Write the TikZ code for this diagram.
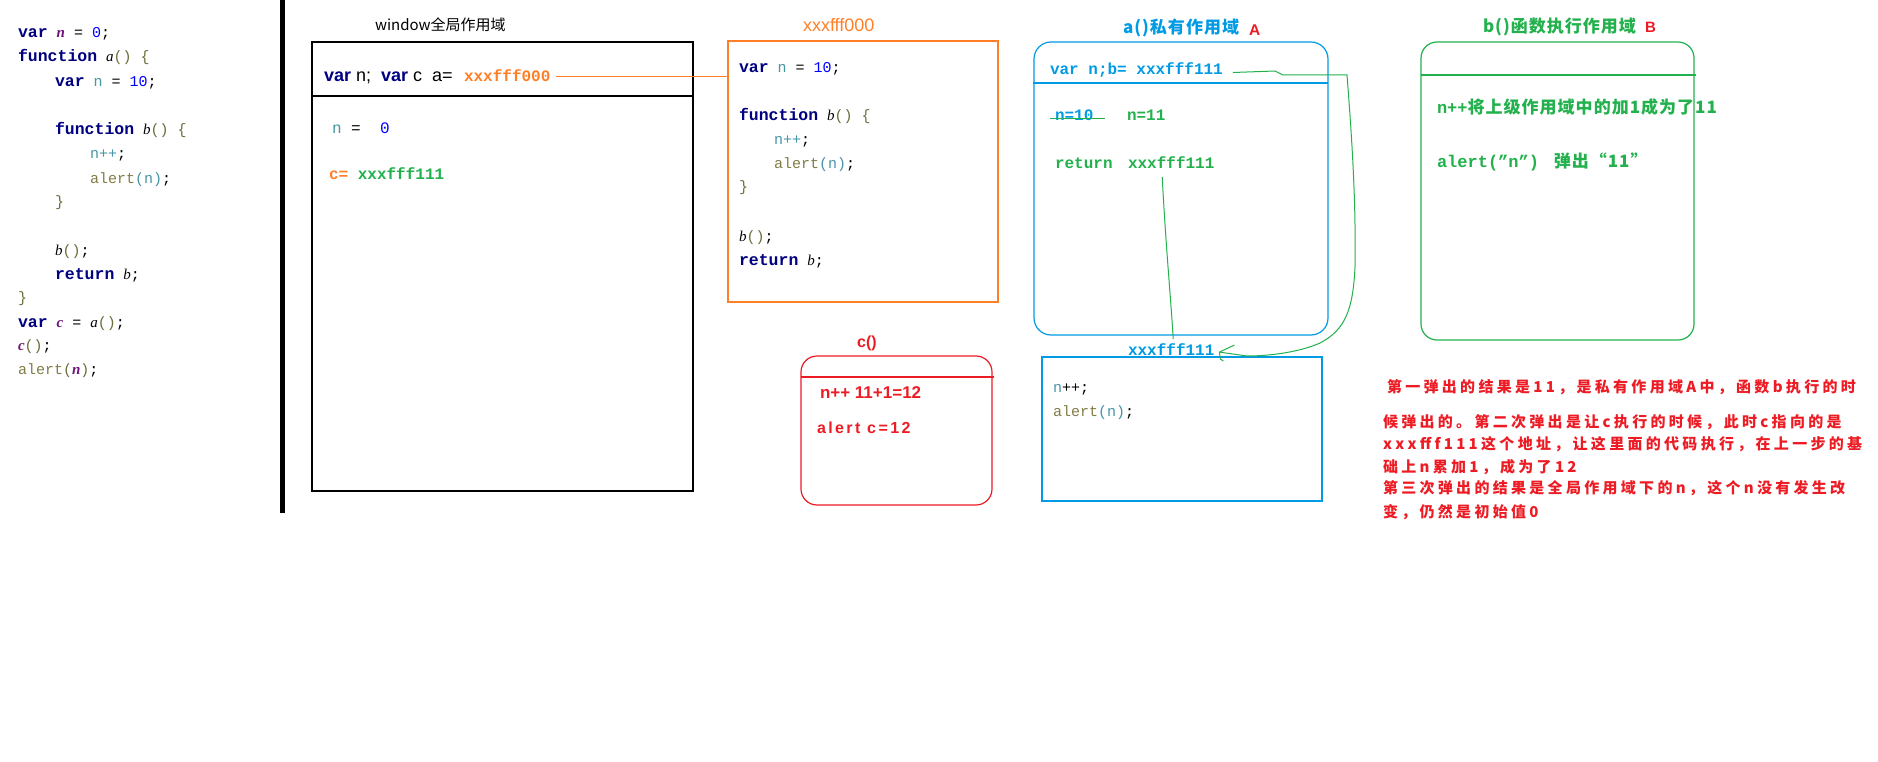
\documentclass[tikz,border=0pt]{standalone}
\usepackage{fontspec}
\setmainfont{Liberation Serif}
\newfontfamily\mono{Liberation Mono}
\newfontfamily\sansf{Liberation Sans}
\newfontfamily\sansls{Liberation Sans}[LetterSpace=15]
\newfontfamily\cjk{Noto Sans CJK SC}
\newfontfamily\cjkg{Noto Sans CJK SC}[LetterSpace=6]
\newfontfamily\cjkr{Noto Sans CJK SC}[LetterSpace=22]
\definecolor{kw}{RGB}{0,0,128}
\definecolor{numc}{RGB}{0,0,255}
\definecolor{varn}{RGB}{70,150,165}
\definecolor{alertc}{RGB}{130,125,70}
\definecolor{purp}{RGB}{110,20,120}
\definecolor{brc}{RGB}{110,110,60}
\definecolor{cblue}{RGB}{0,155,228}
\definecolor{cgreen}{RGB}{34,177,76}
\definecolor{cred}{RGB}{237,28,36}
\definecolor{corange}{RGB}{255,127,39}
\newcommand{\kwd}[1]{{\fontsize{16.5}{18}\selectfont\bfseries\color{kw}#1}}
\newcommand{\pv}[1]{{\rmfamily\bfseries\itshape\color{purp}#1}}
\newcommand{\nm}[1]{{\color{numc}#1}}
\newcommand{\vn}[1]{{\color{varn}#1}}
\newcommand{\al}{{\color{alertc}alert}}
\newcommand{\idf}[1]{{\rmfamily\itshape #1}}
\newcommand{\br}[1]{{\color{brc}#1}}
\begin{document}
\begin{tikzpicture}[x=1pt,y=-1pt]
\tikzset{
  t/.style={inner sep=0pt, outer sep=0pt, anchor=base west},
  codetxt/.style={t, font=\mono\fontsize{15}{18}\selectfont},
  boldmono/.style={t, font=\mono\bfseries\fontsize{16}{19}\selectfont},
  greentxt/.style={t, font=\cjkg\bfseries\fontsize{17}{20}\selectfont, text=cgreen},
  redpar/.style={t, font=\cjkr\bfseries\fontsize{15}{18}\selectfont, text=cred},
  frame/.style={draw, inner sep=0pt, outer sep=0pt, anchor=north west},
  link/.style={cgreen, line width=1pt}
}
\useasboundingbox (0,0) rectangle (1878,762);
\fill[white] (0,0) rectangle (1878,762);

% left code
\node[codetxt] (l1) at (18,38) {\kwd{var} \pv{n} = \nm{0};};
\node[codetxt] (l2) at (18,62) {\kwd{function} \idf{a}\br{()} \br{\{}};
\node[codetxt] (l3) at (55,87) {\kwd{var} \vn{n} = \nm{10};};
\node[codetxt] (l4) at (55,135) {\kwd{function} \idf{b}\br{()} \br{\{}};
\node[codetxt] (l5) at (90,159) {\vn{n++};};
\node[codetxt] (l6) at (90,183) {\al\vn{(n)};};
\node[codetxt] (l7) at (55,207) {\br{\}}};
\node[codetxt] (l8) at (55,255) {\idf{b}\br{()};};
\node[codetxt] (l9) at (55,279) {\kwd{return} \idf{b};};
\node[codetxt] (l10) at (18,302) {\br{\}}};
\node[codetxt] (l11) at (18,327) {\kwd{var} \pv{c} = \idf{a}\br{()};};
\node[codetxt] (l12) at (18,350) {\pv{c}\br{()};};
\node[codetxt] (l13) at (18,374) {\al\br{(}\pv{n}\br{)};};

% divider
\fill[black] (280,0) rectangle (285,513);

% global scope
\node[t, font=\cjk\fontsize{15}{18}\selectfont] (wtitle) at (375,31) {window全局作用域};
\node[frame, line width=2pt, minimum width=381pt, minimum height=449pt] (gbox) at (312,42) {};
\draw[line width=1.5pt] ([yshift=-54pt,xshift=-1pt]gbox.north west) -- ([yshift=-54pt]gbox.north east);
\node[t, font=\sansf\fontsize{18}{20}\selectfont] (gdecl) at (324,82) {{\bfseries\color{kw}var} n;\ \ {\bfseries\color{kw}var} c\ \ a=};
\node[t, font=\mono\bfseries\fontsize{16}{19}\selectfont, text=corange] (gA) at (464,82) {xxxfff000};
\node[t, font=\mono\fontsize{16}{19}\selectfont] (gn) at (332,134) {\vn{n} =\ \ \nm{0}};
\node[boldmono] (gc) at (329,179) {\textcolor{corange}{c=} \textcolor{cgreen}{xxxfff111}};

% orange function object
\node[t, font=\sansf\fontsize{18}{20}\selectfont, text=corange] (otitle) at (803,32) {xxxfff000};
\node[frame, draw=corange, line width=1.5pt, minimum width=270pt, minimum height=261pt] (obox) at (728,41) {};
\draw[corange, line width=1.2pt] ([xshift=6pt]gA.east) -- (gA.east -| obox.west);
\node[codetxt] (o1) at (739,73) {\kwd{var} \vn{n} = \nm{10};};
\node[codetxt] (o2) at (739,121) {\kwd{function} \idf{b}\br{()} \br{\{}};
\node[codetxt] (o3) at (774,145) {\vn{n++};};
\node[codetxt] (o4) at (774,169) {\al\vn{(n)};};
\node[codetxt] (o5) at (739,192) {\br{\}}};
\node[codetxt] (o6) at (739,241) {\idf{b}\br{()};};
\node[codetxt] (o7) at (739,265) {\kwd{return} \idf{b};};

% a() private scope
\node[t, font=\cjkg\bfseries\fontsize{17}{20}\selectfont, text=cblue] (atitle) at (1123,34) {a()私有作用域};
\node[t, font=\sansf\bfseries\fontsize{15.5}{18}\selectfont, text=cred] (alabel) at (1249,36) {A};
\node[frame, draw=cblue, line width=1.2pt, rounded corners=17pt, minimum width=294pt, minimum height=293pt] (abox) at (1034,42) {};
\draw[cblue, line width=1.2pt] ([yshift=-41pt,xshift=-1pt]abox.north west) -- ([yshift=-41pt]abox.north east);
\node[boldmono, text=cblue] (bname) at (1050,75) {var n;b= xxxfff111};
\node[boldmono, text=cblue] (n10) at (1055,121) {n=10};
\draw[link] ([xshift=-5pt,yshift=-2.5pt]n10.west) -- ([xshift=12pt,yshift=-2.5pt]n10.east);
\node[boldmono, text=cgreen] (n11) at (1127,121) {n=11};
\node[boldmono, text=cgreen] (ret) at (1055,169) {return};
\node[boldmono, text=cgreen] (ret111) at (1128,169) {xxxfff111};

% b() object below
\node[boldmono, text=cblue] (low111) at (1128,355) {xxxfff111};
\node[frame, draw=cblue, line width=1.2pt, minimum width=280pt, minimum height=144pt] (lowbox) at (1042,357) {};
\node[codetxt] (w1) at (1053,392) {\vn{n}++;};
\node[codetxt] (w2) at (1053,416) {\al\vn{(n)};};

\draw[link] ([xshift=-9pt,yshift=-8pt]ret111.south) .. controls (1166,250) and (1171,300) .. ([xshift=2pt,yshift=4pt]low111.north);
\coordinate (arrEnd) at ([xshift=5pt,yshift=-3pt]low111.east);
\draw[link] ([xshift=10pt,yshift=-2pt]bname.east) -- (1275,71) -- (1283,75) -- (1347,75)
  .. controls (1352,140) and (1356,200) .. (1355,267)
  .. controls (1353,310) and (1345,330) .. (1320,343)
  .. controls (1300,352) and (1270,356) .. (1247,356) -- (arrEnd);
\draw[link] (arrEnd) -- ++(15,-7);
\draw[link] (arrEnd) -- ++(1,7) -- ++(3,2);

% c() box
\node[t, anchor=base, font=\sansf\bfseries\fontsize{16}{18}\selectfont, text=cred] (ctitle) at (867,347) {c()};
\node[frame, draw=cred, line width=1.2pt, rounded corners=16pt, minimum width=191pt, minimum height=149pt] (cbox) at (801,356) {};
\draw[cred, line width=1.2pt] ([yshift=-21pt]cbox.north west) -- ([yshift=-21pt,xshift=1.5pt]cbox.north east);
\node[t, font=\sansf\bfseries\fontsize{17}{19}\selectfont, text=cred] (c1) at (820,398) {n++ 11+1=12};
\node[t, font=\sansls\bfseries\fontsize{16}{18}\selectfont, text=cred] (c2) at (817,433) {alert c=12};

% b() execution scope
\node[t, font=\cjkg\bfseries\fontsize{17}{20}\selectfont, text=cgreen] (btitle) at (1483,33) {b()函数执行作用域};
\node[t, font=\sansf\bfseries\fontsize{15}{18}\selectfont, text=cred] (blabel) at (1645,33) {B};
\node[frame, draw=cgreen, line width=1.2pt, rounded corners=16pt, minimum width=273pt, minimum height=298pt] (bbox) at (1421,42) {};
\draw[cgreen, line width=1.2pt] ([yshift=-33pt]bbox.north west) -- ([yshift=-33pt,xshift=2pt]bbox.north east);
\node[greentxt] (b1) at (1437,114) {{\mono n++}将上级作用域中的加1成为了11};
\node[greentxt] (b2) at (1437,168) {{\mono alert(”n”)}\ \ \ 弹出“11”};

% explanation
\node[redpar] (r1) at (1387,392) {第一弹出的结果是11，是私有作用域A中，函数b执行的时};
\node[redpar] (r2) at (1383,427) {候弹出的。第二次弹出是让c执行的时候，此时c指向的是};
\node[redpar] (r3) at (1383,449) {xxxfff111这个地址，让这里面的代码执行，在上一步的基};
\node[redpar] (r4) at (1383,472) {础上n累加1，成为了12};
\node[redpar] (r5) at (1383,493) {第三次弹出的结果是全局作用域下的n，这个n没有发生改};
\node[redpar] (r6) at (1383,517) {变，仍然是初始值0};
\end{tikzpicture}
\end{document}
